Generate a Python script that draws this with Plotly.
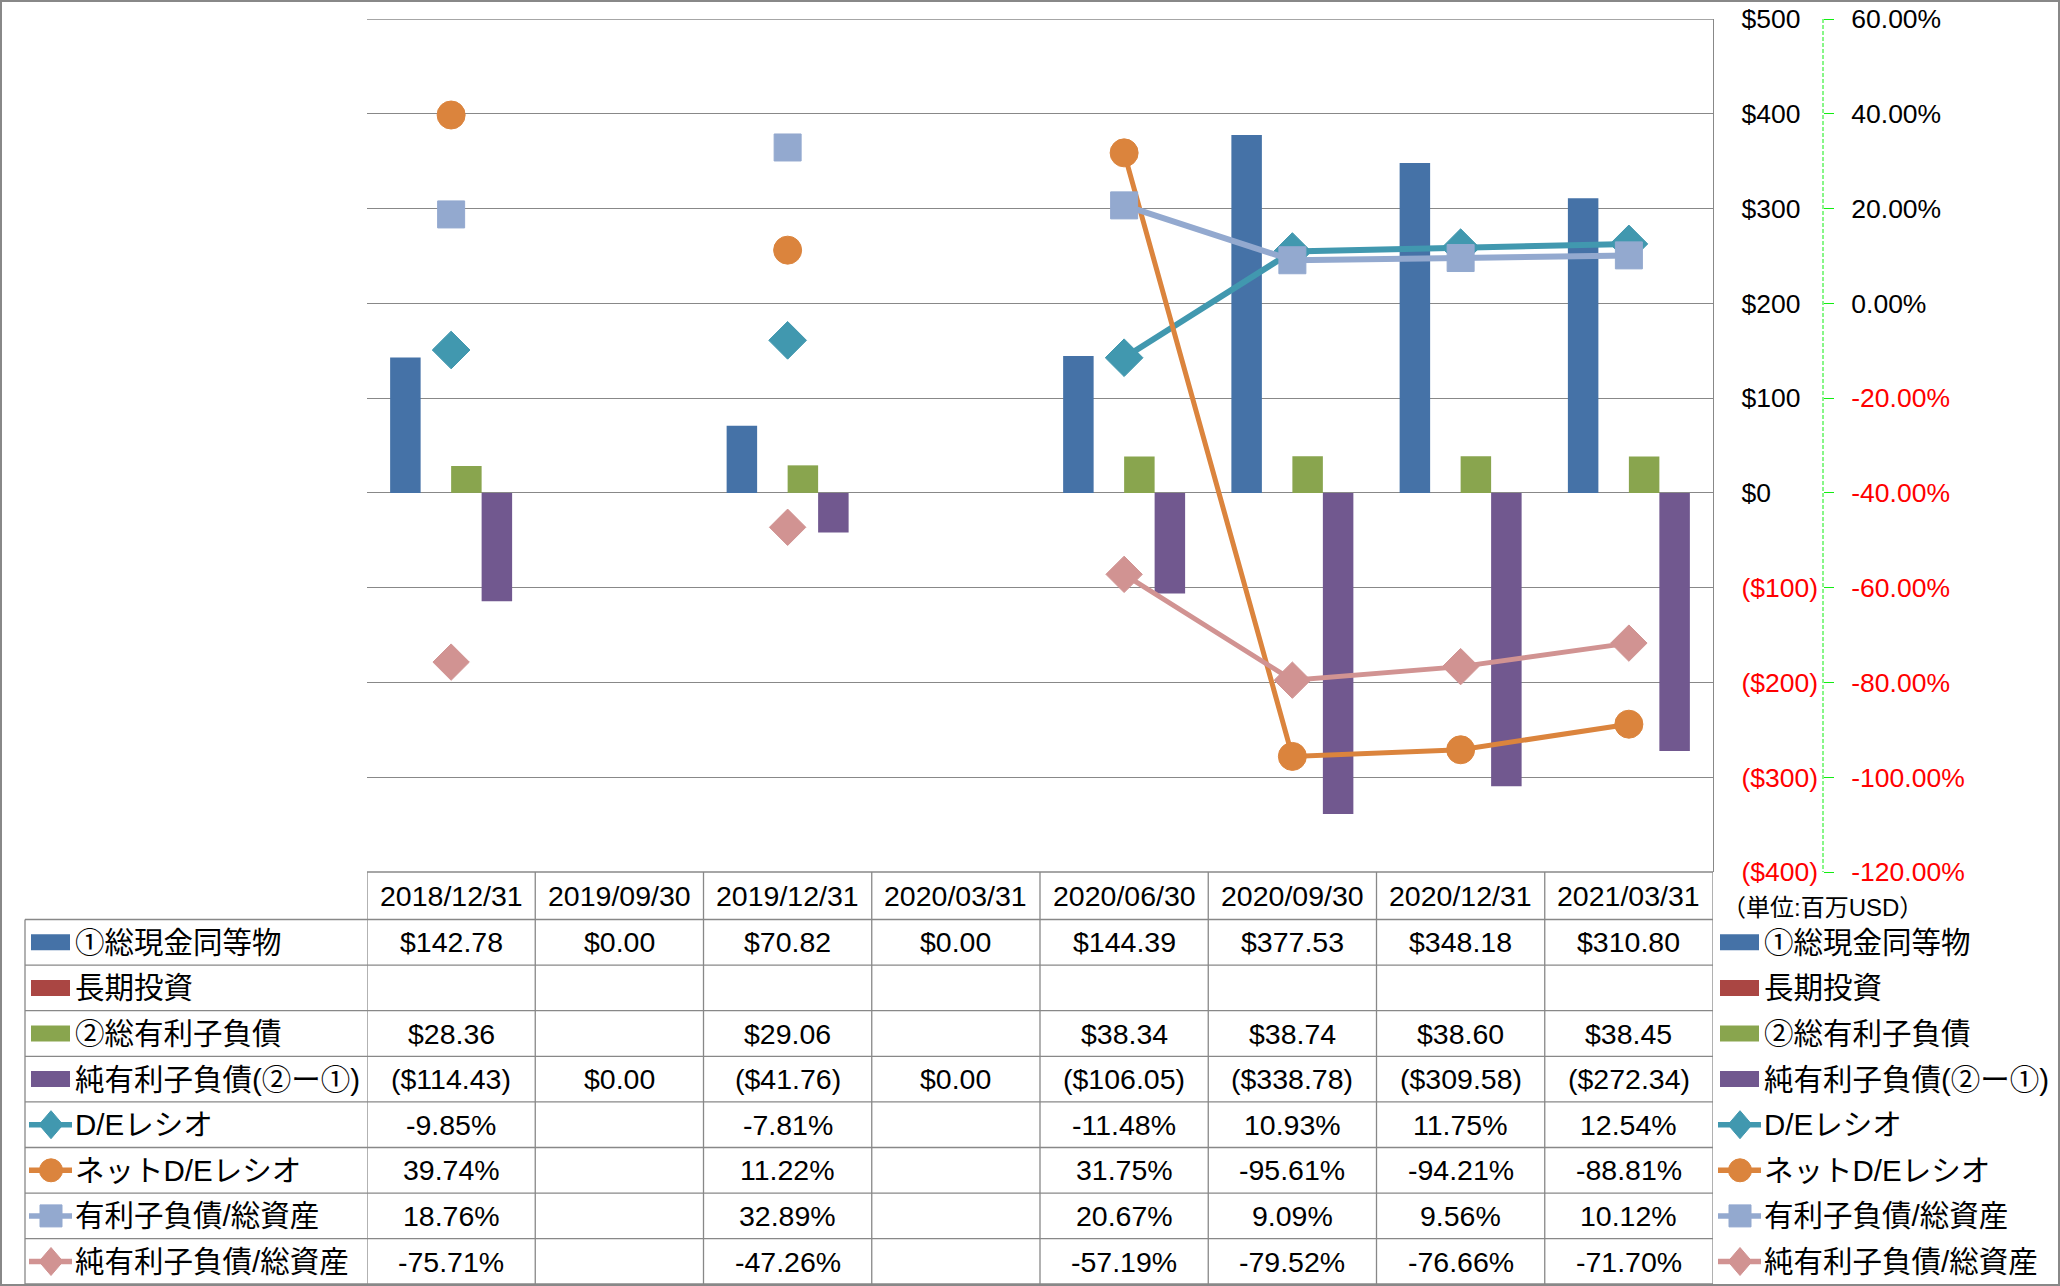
import plotly.graph_objects as go

# ---------------- data ----------------
categories = ["2018/12/31", "2019/09/30", "2019/12/31", "2020/03/31",
              "2020/06/30", "2020/09/30", "2020/12/31", "2021/03/31"]
cash = [142.78, 0.00, 70.82, 0.00, 144.39, 377.53, 348.18, 310.80]
long_term_investment = [None, None, None, None, None, None, None, None]
interest_debt = [28.36, None, 29.06, None, 38.34, 38.74, 38.60, 38.45]
net_interest_debt = [-114.43, 0.00, -41.76, 0.00, -106.05, -338.78, -309.58, -272.34]
de_ratio = [-9.85, None, -7.81, None, -11.48, 10.93, 11.75, 12.54]
net_de_ratio = [39.74, None, 11.22, None, 31.75, -95.61, -94.21, -88.81]
debt_to_assets = [18.76, None, 32.89, None, 20.67, 9.09, 9.56, 10.12]
net_debt_to_assets = [-75.71, None, -47.26, None, -57.19, -79.52, -76.66, -71.70]

usd_ticks = [-400, -300, -200, -100, 0, 100, 200, 300, 400, 500]
pct_ticks = [-120, -100, -80, -60, -40, -20, 0, 20, 40, 60]

names = ["①総現金同等物", "長期投資", "②総有利子負債", "純有利子負債(②ー①)",
         "D/Eレシオ", "ネットD/Eレシオ", "有利子負債/総資産", "純有利子負債/総資産"]
unit_label = "（単位:百万USD）"

# ---------------- style ----------------
W, H = 2060, 1286
FONT = "Liberation Sans, Noto Sans CJK JP, sans-serif"
GRID = "#888888"
RED = "#FF0000"
GREEN_AXIS = "#11EE11"
c_cash, c_lti, c_debt, c_net = "#4572A7", "#AA4643", "#89A54E", "#71588F"
c_de, c_nde, c_dta, c_ndta = "#4198AF", "#DB843D", "#93A9CF", "#D19392"

PLOT_L, PLOT_R, PLOT_T, PLOT_B = 367, 1713, 19, 872
ROW_TOP, ROW_H = 919.5, 45.6
TBL_BOTTOM = 1284
TBL_L = 25
SEC_AXIS_X = 1823


def px(x):
    return x / W


def py(y):
    return 1 - y / H


def fmt_usd(v):
    if v is None:
        return ""
    if v < 0:
        return f"(${-v:,.2f})"
    return f"${v:,.2f}"


def fmt_pct(v):
    if v is None:
        return ""
    return f"{v:.2f}%"


def usd_tick(v):
    if v < 0:
        return f'<span style="color:{RED}">(${-v})</span>'
    return f"${v}"


def pct_tick(v):
    s = f"{v:.2f}%"
    if v < 0:
        return f'<span style="color:{RED}">{s}</span>'
    return s


fig = go.Figure()

bar_w = 0.18125
bar_series = [(cash, c_cash, -2), (long_term_investment, c_lti, -1),
              (interest_debt, c_debt, 0), (net_interest_debt, c_net, 1)]
for (vals, col, k), nm in zip(bar_series, names[:4]):
    fig.add_trace(go.Bar(x=categories, y=vals, name=nm, marker_color=col,
                         marker_line_width=0, width=bar_w, offset=k * bar_w,
                         yaxis="y", showlegend=False))

line_series = [(de_ratio, c_de, "diamond", 29, 6),
               (net_de_ratio, c_nde, "circle", 28, 5),
               (debt_to_assets, c_dta, "square", 27, 6),
               (net_debt_to_assets, c_ndta, "diamond", 28, 5)]
for (vals, col, sym, ms, lw), nm in zip(line_series, names[4:]):
    fig.add_trace(go.Scatter(x=categories, y=vals, name=nm, mode="lines+markers",
                             line=dict(color=col, width=lw),
                             marker=dict(symbol=sym, size=ms, color=col,
                                         line=dict(color=col, width=1)),
                             connectgaps=False, yaxis="y2", showlegend=False))

shapes = []
annotations = []
LINEC = "#888888"

# top gridline (range edge)
shapes.append(dict(type="line", xref="x", yref="y", x0=-0.5, x1=len(categories) - 0.5,
                   y0=max(usd_ticks), y1=max(usd_ticks), layer="below",
                   line=dict(color=GRID, width=1.3)))

# table grid
n = len(categories)
shapes.append(dict(type="line", xref="x", yref="paper", x0=-0.5, x1=n - 0.5,
                   y0=py(PLOT_B), y1=py(PLOT_B), line=dict(color=LINEC, width=1.3)))
for i in range(9):
    yy = ROW_TOP + i * ROW_H if i < 8 else TBL_BOTTOM
    shapes.append(dict(type="line", xref="paper", yref="paper", x0=px(TBL_L), x1=px(PLOT_R),
                       y0=py(yy), y1=py(yy), line=dict(color=LINEC, width=1.3)))
for k in range(n + 1):
    shapes.append(dict(type="line", xref="x", yref="paper", x0=k - 0.5, x1=k - 0.5,
                       y0=py(PLOT_B), y1=py(TBL_BOTTOM), line=dict(color=LINEC, width=1.3)))
shapes.append(dict(type="line", xref="paper", yref="paper", x0=px(TBL_L), x1=px(TBL_L),
                   y0=py(ROW_TOP), y1=py(TBL_BOTTOM), line=dict(color=LINEC, width=1.3)))

# secondary axis dashed line
shapes.append(dict(type="line", xref="paper", yref="paper", x0=px(SEC_AXIS_X), x1=px(SEC_AXIS_X),
                   y0=py(PLOT_T), y1=py(PLOT_B),
                   line=dict(color=GREEN_AXIS, width=1, dash="4px,2px")))

# outer border
shapes.append(dict(type="rect", xref="paper", yref="paper", x0=0, x1=1, y0=0, y1=1,
                   line=dict(color="#888888", width=4), layer="above"))

FS = 28.5
FS_LEG = 29.5
# header texts
for c in categories:
    annotations.append(dict(x=c, xref="x", y=py((PLOT_B + ROW_TOP) / 2), yref="paper",
                            text=c, showarrow=False, xanchor="center", yanchor="middle",
                            font=dict(family=FONT, size=FS, color="black")))

rows = [(cash, fmt_usd), (long_term_investment, fmt_usd), (interest_debt, fmt_usd),
        (net_interest_debt, fmt_usd), (de_ratio, fmt_pct), (net_de_ratio, fmt_pct),
        (debt_to_assets, fmt_pct), (net_debt_to_assets, fmt_pct)]
for r, (vals, f) in enumerate(rows):
    yc = ROW_TOP + (r + 0.5) * ROW_H
    for c, v in zip(categories, vals):
        t = f(v)
        if t:
            annotations.append(dict(x=c, xref="x", y=py(yc), yref="paper", text=t,
                                    showarrow=False, xanchor="center", yanchor="middle",
                                    font=dict(family=FONT, size=FS, color="black")))

# legends (left in table, right of table)
colors = [c_cash, c_lti, c_debt, c_net, c_de, c_nde, c_dta, c_ndta]
syms = [None, None, None, None, "diamond", "circle", "square", "diamond"]


def legend_symbol(cx, yc, col, sym, x0, x1):
    if sym is None:
        shapes.append(dict(type="rect", xref="paper", yref="paper",
                           x0=px(x0), x1=px(x1), y0=py(yc + 8), y1=py(yc - 8),
                           fillcolor=col, line=dict(width=0)))
        return
    shapes.append(dict(type="line", xref="paper", yref="paper", x0=px(x0 - 2), x1=px(x1 + 2),
                       y0=py(yc), y1=py(yc), line=dict(color=col, width=5.5)))
    if sym == "diamond":
        hw, hh = 12, 14
        path = (f"M {px(cx - hw)},{py(yc)} L {px(cx)},{py(yc - hh)} "
                f"L {px(cx + hw)},{py(yc)} L {px(cx)},{py(yc + hh)} Z")
        shapes.append(dict(type="path", xref="paper", yref="paper", path=path,
                           fillcolor=col, line=dict(color=col, width=1)))
    elif sym == "circle":
        r = 11.5
        shapes.append(dict(type="circle", xref="paper", yref="paper",
                           x0=px(cx - r), x1=px(cx + r), y0=py(yc + r), y1=py(yc - r),
                           fillcolor=col, line=dict(color=col, width=1)))
    else:
        r = 11
        shapes.append(dict(type="rect", xref="paper", yref="paper",
                           x0=px(cx - r), x1=px(cx + r), y0=py(yc + r), y1=py(yc - r),
                           fillcolor=col, line=dict(color=col, width=1)))


for r, (nm, col, sym) in enumerate(zip(names, colors, syms)):
    yc = ROW_TOP + (r + 0.5) * ROW_H
    legend_symbol(51, yc, col, sym, 31, 70)
    annotations.append(dict(x=px(73), xref="paper", y=py(yc), yref="paper", text=nm,
                            showarrow=False, xanchor="left", yanchor="middle",
                            font=dict(family=FONT, size=FS_LEG, color="black")))
    legend_symbol(1740, yc, col, sym, 1720, 1759)
    annotations.append(dict(x=px(1762), xref="paper", y=py(yc), yref="paper", text=nm,
                            showarrow=False, xanchor="left", yanchor="middle",
                            font=dict(family=FONT, size=FS_LEG, color="black")))

annotations.append(dict(x=px(1720), xref="paper", y=py(907), yref="paper", text=unit_label,
                        showarrow=False, xanchor="left", yanchor="middle",
                        font=dict(family=FONT, size=24, color="black")))

fig.update_layout(
    width=W, height=H, margin=dict(l=0, r=0, t=0, b=0, pad=0, autoexpand=False),
    paper_bgcolor="white", plot_bgcolor="white",
    barmode="overlay", showlegend=False,
    font=dict(family=FONT, size=FS, color="black"),
    xaxis=dict(type="category", categoryorder="array", categoryarray=categories,
               domain=[px(PLOT_L), px(PLOT_R)], range=[-0.5, len(categories) - 0.5],
               showticklabels=False, showgrid=False, showline=False, ticks="",
               zeroline=False, automargin=False),
    yaxis=dict(domain=[py(PLOT_B), py(PLOT_T)], range=[-400, 500], side="right",
               tickvals=usd_ticks, ticktext=[usd_tick(v) for v in usd_ticks],
               showgrid=True, gridcolor=GRID, gridwidth=1.3, zeroline=False,
               showline=True, linecolor=GRID, linewidth=1.3, ticks="",
               ticklabelstandoff=22, automargin=False,
               tickfont=dict(family=FONT, size=26.5, color="black")),
    yaxis2=dict(overlaying="y", side="right", anchor="free", position=px(SEC_AXIS_X),
                range=[-120, 60], tickvals=pct_ticks,
                ticktext=[pct_tick(v) for v in pct_ticks],
                showgrid=False, zeroline=False, showline=False,
                ticks="outside", ticklen=10, tickcolor=GREEN_AXIS, tickwidth=1,
                ticklabelstandoff=12, automargin=False,
                tickfont=dict(family=FONT, size=26.5, color="black")),
    shapes=shapes, annotations=annotations,
)

fig.write_html("out.html", config={"displayModeBar": False},
               post_script="document.body.style.margin='0px';")
